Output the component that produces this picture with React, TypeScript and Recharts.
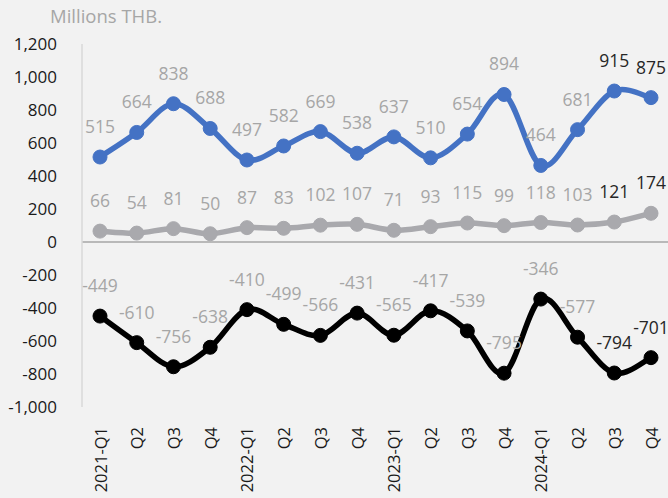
import { CartesianGrid, LabelList, Line, LineChart, ReferenceLine, XAxis, YAxis } from "recharts";

const quarters = [
  "2021-Q1", "Q2", "Q3", "Q4",
  "2022-Q1", "Q2", "Q3", "Q4",
  "2023-Q1", "Q2", "Q3", "Q4",
  "2024-Q1", "Q2", "Q3", "Q4",
];
const revenue = [515, 664, 838, 688, 497, 582, 669, 538, 637, 510, 654, 894, 464, 681, 915, 875];
const profit = [66, 54, 81, 50, 87, 83, 102, 107, 71, 93, 115, 99, 118, 103, 121, 174];
const expense = [-449, -610, -756, -638, -410, -499, -566, -431, -565, -417, -539, -795, -346, -577, -794, -701];
const yTicks = [-1000, -800, -600, -400, -200, 0, 200, 400, 600, 800, 1000, 1200];

const data = quarters.map((q, i) => ({ q, revenue: revenue[i], profit: profit[i], expense: expense[i] }));

const FONT = "'Open Sans', 'Noto Sans', sans-serif";
const MUTED = "#a6a6a6";
const DARK = "#262626";

// Excel-style smoothed line: Catmull-Rom segments as cubic beziers
const smoothCurve = (context: any) => {
  let pts: number[][] = [];
  return {
    areaStart() {},
    areaEnd() {},
    lineStart() {
      pts = [];
    },
    point(x: number, y: number) {
      pts.push([+x, +y]);
    },
    lineEnd() {
      if (!pts.length) return;
      context.moveTo(pts[0][0], pts[0][1]);
      for (let i = 0; i < pts.length - 1; i++) {
        const p0 = pts[i - 1] || pts[i];
        const p1 = pts[i];
        const p2 = pts[i + 1];
        const p3 = pts[i + 2] || p2;
        context.bezierCurveTo(
          p1[0] + (p2[0] - p0[0]) / 6,
          p1[1] + (p2[1] - p0[1]) / 6,
          p2[0] - (p3[0] - p1[0]) / 6,
          p2[1] - (p3[1] - p1[1]) / 6,
          p2[0],
          p2[1]
        );
      }
    },
  };
};

// value label above each point; the last two quarters are highlighted
const pointLabel = (props: any) => {
  const { x, y, value, index } = props;
  return (
    <text
      x={x}
      y={y - 31}
      textAnchor="middle"
      dominantBaseline="central"
      fontFamily={FONT}
      fontSize={17.5}
      fill={index >= quarters.length - 2 ? DARK : MUTED}
    >
      {value}
    </text>
  );
};

const QuarterTick = ({ x, y, payload }: any) => (
  <text
    transform={`translate(${x},${y + 18}) rotate(-90)`}
    textAnchor="end"
    dominantBaseline="central"
    fontFamily={FONT}
    fontSize={16.5}
    fill="#1a1a1a"
  >
    {payload.value}
  </text>
);

export default function App() {
  return (
    <div style={{ position: "fixed", left: 0, top: 0, width: 668, height: 498, overflow: "hidden", background: "#f2f2f2" }}>
      <div style={{ position: "absolute", left: 50, top: 3, fontFamily: FONT, fontSize: 18.5, color: MUTED }}>Millions THB.</div>
      <LineChart width={670} height={498} data={data} margin={{ top: 44, right: 1, bottom: 0, left: 0 }}>
        <CartesianGrid horizontal={false} vertical={false} />
        <XAxis
          dataKey="q"
          interval={0}
          padding={{ left: 18, right: 18 }}
          axisLine={false}
          tickLine={false}
          tickSize={0}
          height={91}
          tick={<QuarterTick />}
        />
        <YAxis
          width={82}
          domain={[-1000, 1200]}
          ticks={yTicks}
          interval={0}
          tickLine={false}
          tickSize={0}
          tickMargin={25}
          axisLine={{ stroke: "#d9d9d9", strokeWidth: 1.5 }}
          tickFormatter={(v: number) => v.toLocaleString("en-US")}
          tick={{ fontFamily: FONT, fontSize: 17, fill: "#1a1a1a" }}
        />
        <ReferenceLine y={0} stroke="#a6a6a6" strokeWidth={1.5} />
        <Line
          dataKey="revenue"
          type={smoothCurve as any}
          stroke="#4472c4"
          strokeWidth={5.5}
          dot={{ r: 7, fill: "#4472c4", stroke: "#4472c4", strokeWidth: 1 }}
          isAnimationActive={false}
        >
          <LabelList dataKey="revenue" content={pointLabel} />
        </Line>
        <Line
          dataKey="profit"
          type={smoothCurve as any}
          stroke="#a9a9ad"
          strokeWidth={5.5}
          dot={{ r: 7, fill: "#a9a9ad", stroke: "#a9a9ad", strokeWidth: 1 }}
          isAnimationActive={false}
        >
          <LabelList dataKey="profit" content={pointLabel} />
        </Line>
        <Line
          dataKey="expense"
          type={smoothCurve as any}
          stroke="#000000"
          strokeWidth={5.5}
          dot={{ r: 7, fill: "#000000", stroke: "#000000", strokeWidth: 1 }}
          isAnimationActive={false}
        >
          <LabelList dataKey="expense" content={pointLabel} />
        </Line>
      </LineChart>
    </div>
  );
}
